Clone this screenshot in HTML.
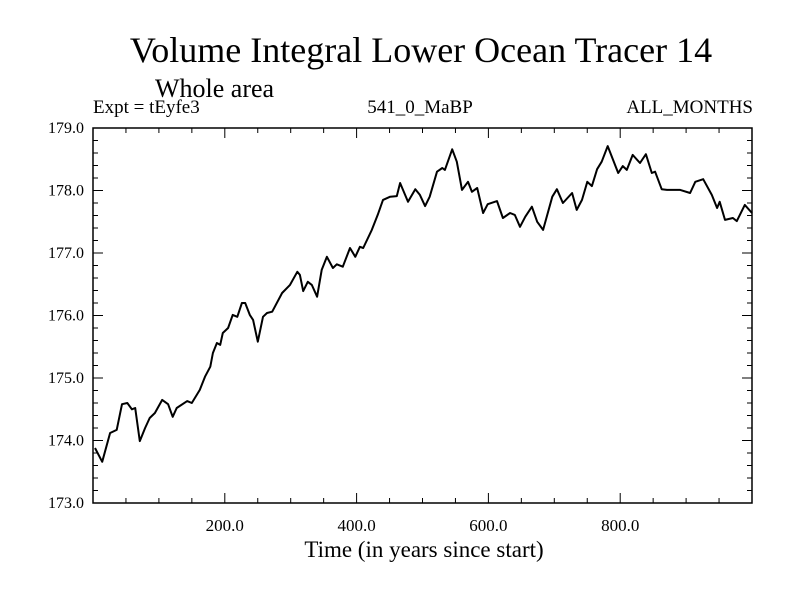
<!DOCTYPE html>
<html><head><meta charset="utf-8"><style>
body{margin:0;background:#fff}
svg{display:block;font-family:"Liberation Serif",serif}
</style></head><body>
<svg id="chart" width="800" height="600" viewBox="0 0 800 600">
<rect width="800" height="600" fill="#fff"/>
<text x="421" y="62" font-size="36" text-anchor="middle">Volume Integral Lower Ocean Tracer 14</text>
<text x="155" y="97" font-size="26">Whole area</text>
<text x="93" y="113" font-size="19">Expt = tEyfe3</text>
<text x="420" y="113" font-size="19" text-anchor="middle">541_0_MaBP</text>
<text x="753" y="113" font-size="19" text-anchor="end">ALL_MONTHS</text>
<text x="424" y="557" font-size="23" text-anchor="middle">Time (in years since start)</text>
<g id="axes"></g>
<path id="line" fill="none" stroke="#000" stroke-width="2" stroke-linejoin="round"/>
</svg>
<script>
const years=[3,14,26,36,44,52,59,64,71,79,86,94,105,114,121,127,143,150,162,170,178,182,188,193,197,205,212,219,226,231,238,243,250,258,264,272,287,299,310,314,319,326,332,340,347,355,364,370,379,390,398,405,410,423,432,440,451,461,466,478,489,496,504,511,522,530,534,545,552,560,569,575,583,592,599,613,622,633,640,648,656,666,674,683,697,704,713,727,734,742,750,757,765,772,781,797,804,810,819,830,839,848,853,863,871,891,906,914,926,939,947,951,959,971,977,989,1000];
const values=[173.88,173.66,174.12,174.17,174.58,174.60,174.50,174.52,173.99,174.20,174.36,174.44,174.65,174.58,174.38,174.52,174.63,174.60,174.81,175.02,175.18,175.40,175.56,175.53,175.72,175.80,176.01,175.98,176.20,176.20,176.01,175.93,175.58,175.98,176.04,176.06,176.36,176.49,176.70,176.65,176.39,176.54,176.49,176.30,176.73,176.94,176.76,176.82,176.78,177.08,176.94,177.10,177.08,177.37,177.61,177.85,177.90,177.91,178.12,177.82,178.02,177.93,177.75,177.90,178.30,178.36,178.33,178.66,178.46,178.01,178.14,177.98,178.04,177.64,177.78,177.83,177.56,177.64,177.61,177.42,177.58,177.74,177.50,177.37,177.90,178.02,177.80,177.96,177.69,177.85,178.14,178.07,178.34,178.46,178.71,178.28,178.39,178.33,178.57,178.44,178.58,178.28,178.30,178.02,178.01,178.01,177.96,178.14,178.18,177.93,177.72,177.82,177.53,177.56,177.51,177.77,177.64];
const xTicks=[200,400,600,800];
const xTickLabels=["200.0","400.0","600.0","800.0"];
const yTicks=[173,174,175,176,177,178,179];
const yTickLabels=["173.0","174.0","175.0","176.0","177.0","178.0","179.0"];
const L=93,R=752,T=128,B=503,XMIN=0,XMAX=1000,YMIN=173,YMAX=179;
const sx=v=>L+(v-XMIN)/(XMAX-XMIN)*(R-L);
const sy=v=>B-(v-YMIN)/(YMAX-YMIN)*(B-T);
const NS="http://www.w3.org/2000/svg";
const g=document.getElementById('axes');
function mk(tag,attrs,parent){const e=document.createElementNS(NS,tag);for(const k in attrs)e.setAttribute(k,attrs[k]);(parent||g).appendChild(e);return e;}
const frame=mk('rect',{x:L,y:T,width:R-L,height:B-T,fill:'none',stroke:'#000','stroke-width':1.5});


let d='';
for(let v=XMIN+50;v<XMAX;v+=50){const x=sx(v);const len=(v%200===0)?10:5;d+=`M${x},${B}v${-len}M${x},${T}v${len}`;}
for(let v=YMIN+0.2;v<YMAX-0.01;v+=0.2){const y=sy(v);const len=(Math.abs(v-Math.round(v))<0.01)?10:5;d+=`M${L},${y}h${len}M${R},${y}h${-len}`;}
const ticks=mk('path',{d:d,stroke:'#000','stroke-width':1,fill:'none'});


xTicks.forEach((v,i)=>{const t=mk('text',{x:sx(v),y:531,'font-size':17,'text-anchor':'middle'});t.textContent=xTickLabels[i];

});
yTicks.forEach((v,i)=>{const t=mk('text',{x:84,y:sy(v)+5,'font-size':16,'text-anchor':'end'});t.textContent=yTickLabels[i];

});
document.getElementById('line').setAttribute('d',years.map((y,i)=>(i?'L':'M')+sx(y).toFixed(1)+','+sy(values[i]).toFixed(1)).join(''));
</script>
</body></html>
